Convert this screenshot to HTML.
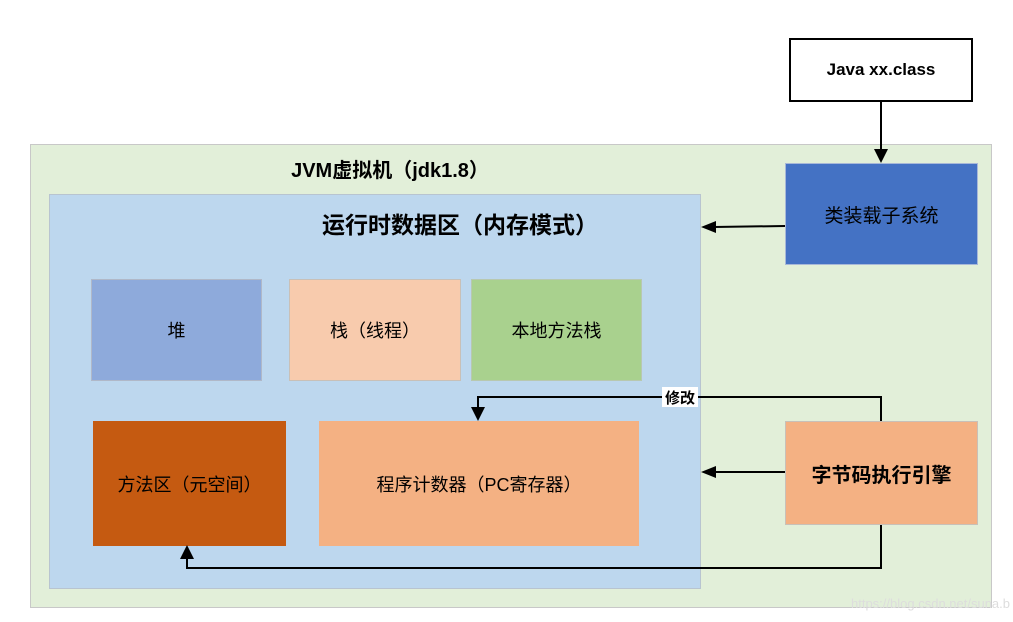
<!DOCTYPE html>
<html><head><meta charset="utf-8"><style>
body{margin:0;width:1013px;height:622px;background:#fff;position:relative;overflow:hidden;font-family:"Liberation Sans","Noto Sans CJK SC",sans-serif;}
.b{position:absolute;box-sizing:border-box;display:flex;align-items:center;justify-content:center;color:#000;}
</style></head><body>
<div class="b" style="left:30px;top:144px;width:962px;height:464px;background:#e2efd9;border:1px solid #c8c8c8;"></div>
<div class="b" style="left:49px;top:194px;width:652px;height:395px;background:#bdd7ee;border:1px solid #b8c4d0;"></div>
<div style="position:absolute;left:240px;top:154px;width:300px;text-align:center;font-size:20px;font-weight:bold;">JVM虚拟机（jdk1.8）</div>
<div style="position:absolute;left:290px;top:206px;width:340px;text-align:center;font-size:23px;font-weight:bold;">运行时数据区（内存模式）</div>
<div class="b" style="left:789px;top:38px;width:184px;height:64px;background:#fff;border:2px solid #000;font-size:17px;font-weight:bold;">Java xx.class</div>
<div class="b" style="left:785px;top:163px;width:193px;height:102px;background:#4472c4;border:1px solid #a8b8d8;font-size:19px;">类装载子系统</div>
<div class="b" style="left:91px;top:279px;width:171px;height:102px;background:#8eaadb;border:1px solid #b0b8c8;font-size:18px;">堆</div>
<div class="b" style="left:289px;top:279px;width:172px;height:102px;background:#f8cbad;border:1px solid #c8c0b8;font-size:18px;">栈（线程）</div>
<div class="b" style="left:471px;top:279px;width:171px;height:102px;background:#a9d18e;border:1px solid #b8c8b0;font-size:18px;">本地方法栈</div>
<div class="b" style="left:93px;top:421px;width:193px;height:125px;background:#c55a11;font-size:18px;">方法区（元空间）</div>
<div class="b" style="left:319px;top:421px;width:320px;height:125px;background:#f4b183;font-size:18px;">程序计数器（PC寄存器）</div>
<div class="b" style="left:785px;top:421px;width:193px;height:104px;background:#f4b183;border:1px solid #c8c0b8;font-size:20px;font-weight:bold;">字节码执行引擎</div>
<svg width="1013" height="622" style="position:absolute;left:0;top:0;">
<g stroke="#000" stroke-width="2" fill="none">
<line x1="881" y1="102" x2="881" y2="150"/>
<line x1="785" y1="226" x2="714" y2="227"/>
<line x1="785" y1="472" x2="714" y2="472"/>
<polyline points="881,421 881,397 478,397 478,408"/>
<polyline points="881,525 881,568 187,568 187,558"/>
</g>
<g fill="#000">
<polygon points="874,149 888,149 881,163"/>
<polygon points="701,227 716,221 716,233"/>
<polygon points="701,472 716,466 716,478"/>
<polygon points="471,407 485,407 478,421"/>
<polygon points="180,559 194,559 187,545"/>
</g>
<rect x="662" y="387" width="36" height="20" fill="#fff"/>
<text x="680" y="403" font-size="15" font-weight="bold" text-anchor="middle" font-family="Liberation Sans, Noto Sans CJK SC, sans-serif">修改</text>
<text x="1010" y="608" font-size="13" fill="#ddd" text-anchor="end" font-family="Liberation Sans, sans-serif">https://blog.csdn.net/suna.b</text>
</svg>
</body></html>
